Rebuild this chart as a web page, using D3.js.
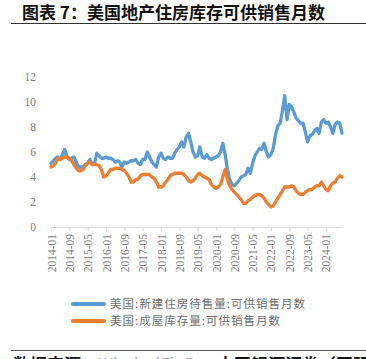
<!DOCTYPE html>
<html><head><meta charset="utf-8">
<script src="https://cdn.jsdelivr.net/npm/d3@7"></script>
<style>
html,body{margin:0;padding:0;background:#fff;}
svg{display:block;}
</style>
</head><body>
<div id="chart"></div>
<script>
const titleText = "图表 7：美国地产住房库存可供销售月数";
const seriesNames = ["美国:新建住房待售量:可供销售月数", "美国:成屋库存量:可供销售月数"];
const startMonth = "2014-01";
const tickLabels = ["2014-01","2014-09","2015-05","2016-01","2016-09","2017-05","2018-01","2018-09","2019-05","2020-01","2020-09","2021-05","2022-01","2022-09","2023-05","2024-01"];
const yTicks = [0,2,4,6,8,10,12];

// 新建住房可供销售月数 2014-01 ... 2024-08
const newHomes = [
  5.1,5.3,5.5,5.6,5.4,5.8,6.2,5.6,5.4,5.5,5.6,5.2,
  4.8,4.8,4.8,5.0,5.1,5.4,5.0,5.1,5.9,5.7,5.5,5.5,
  5.6,5.5,5.5,5.4,5.2,5.3,5.2,4.8,5.2,5.1,5.2,5.3,
  5.3,5.4,5.1,5.0,5.4,5.4,6.0,5.6,5.2,5.0,4.8,5.6,
  5.9,5.5,5.4,5.6,5.5,5.5,5.9,6.2,6.4,6.8,6.4,7.2,
  7.5,6.8,6.0,5.6,5.7,6.4,5.6,5.5,5.8,5.5,5.4,5.5,
  5.6,5.7,6.0,6.7,5.8,4.6,3.8,3.4,3.3,3.5,3.7,4.0,
  4.1,4.2,4.7,4.3,5.1,5.7,6.0,6.3,6.2,6.7,6.0,5.6,
  5.8,6.3,7.4,8.1,8.3,9.3,10.5,8.6,9.8,9.6,9.2,8.7,
  8.5,8.3,8.3,7.6,6.8,7.3,7.4,7.7,7.9,7.5,8.4,8.6,
  8.3,8.4,8.0,7.5,8.2,8.4,8.3,7.5
];
// 成屋可供销售月数 2014-01 ... 2024-08
const existingHomes = [
  4.8,4.9,5.1,5.5,5.4,5.5,5.6,5.6,5.5,5.3,5.0,4.7,
  4.5,4.5,4.6,4.9,5.1,5.2,5.0,5.0,5.0,4.9,4.6,4.0,
  4.1,4.3,4.6,4.6,4.7,4.7,4.7,4.6,4.5,4.3,4.0,3.6,
  3.6,3.8,3.8,4.1,4.2,4.2,4.2,4.2,4.0,3.9,3.6,3.2,
  3.2,3.3,3.6,3.8,4.1,4.2,4.3,4.3,4.3,4.3,4.2,4.0,
  3.7,3.6,3.7,3.9,4.2,4.3,4.1,4.0,3.9,3.8,3.4,3.2,
  3.1,3.2,3.4,4.0,4.6,3.8,3.3,3.0,2.8,2.6,2.4,2.2,
  1.9,1.9,2.1,2.2,2.4,2.5,2.6,2.6,2.5,2.3,2.0,1.8,
  1.6,1.7,2.0,2.3,2.6,2.9,3.2,3.2,3.2,3.3,3.2,2.9,
  2.7,2.6,2.6,2.8,2.9,3.0,3.0,3.2,3.3,3.3,3.6,3.3,
  3.0,2.9,3.3,3.5,3.6,3.9,4.1,4.0
];
const colors = ["#5b9bd5", "#ed7d31"];

const W = 366, H = 359;
const svg = d3.select("#chart").append("svg").attr("width", W).attr("height", H);

const fmt = d3.timeFormat("%Y-%m");
const parse = d3.timeParse("%Y-%m");
const months = d3.timeMonth.range(parse(startMonth), d3.timeMonth.offset(parse(startMonth), newHomes.length)).map(fmt);

// title
svg.append("text").attr("x", 22).attr("y", 19)
  .attr("font-family", "'Noto Sans CJK SC', sans-serif").attr("font-weight", "bold")
  .attr("font-size", 17).attr("fill", "#111").text(titleText);
svg.append("line").attr("x1", 11).attr("x2", 366).attr("y1", 23.5).attr("y2", 23.5)
  .attr("stroke", "#333").attr("stroke-width", 1);

const x = d3.scalePoint().domain(months).range([51, 342]);
const y = d3.scaleLinear().domain([0, 12]).range([227, 77]);

// y axis
const yAxis = svg.append("g").attr("transform", "translate(51,0)")
  .call(d3.axisLeft(y).tickValues(yTicks).tickSize(0).tickPadding(15));
yAxis.select(".domain").remove();
yAxis.selectAll("text").attr("font-family", "'Liberation Serif', serif").attr("font-size", 11.5).attr("fill", "#7f7f7f");

// x axis
const xAxis = svg.append("g").attr("transform", "translate(0,227)")
  .call(d3.axisBottom(x).tickValues(tickLabels).tickSizeInner(4).tickSizeOuter(0));
xAxis.select(".domain").attr("stroke", "#d9d9d9");
xAxis.selectAll(".tick line").attr("stroke", "#d9d9d9");
xAxis.selectAll("text")
  .attr("font-family", "'Liberation Serif', serif").attr("font-size", 11.5).attr("fill", "#7f7f7f")
  .attr("transform", "rotate(-90)").attr("text-anchor", "end")
  .attr("x", -7).attr("y", 0).attr("dy", "0.35em");

// lines
const line = d3.line().x((d, i) => x(months[i])).y(d => y(d));
[newHomes, existingHomes].forEach((s, k) => {
  svg.append("path").datum(s).attr("d", line).attr("fill", "none")
    .attr("stroke", colors[k]).attr("stroke-width", 3.3).attr("stroke-linejoin", "round").attr("stroke-linecap", "round");
});

// legend
const legY = [304, 321];
seriesNames.forEach((n, k) => {
  svg.append("line").attr("x1", 73).attr("x2", 104).attr("y1", legY[k]).attr("y2", legY[k])
    .attr("stroke", colors[k]).attr("stroke-width", 4).attr("stroke-linecap", "round");
  svg.append("text").attr("x", 110).attr("y", legY[k]).attr("dy", "0.36em")
    .attr("font-family", "'Noto Sans CJK SC', sans-serif").attr("font-size", 11.5)
    .attr("letter-spacing", 1)
    .attr("fill", "#6e6e6e").text(n);
});

// footer
svg.append("line").attr("x1", 11).attr("x2", 366).attr("y1", 350.5).attr("y2", 350.5)
  .attr("stroke", "#555").attr("stroke-width", 1);
const ft = svg.append("text").attr("x", 13).attr("y", 371)
  .attr("font-family", "'Noto Sans CJK SC', sans-serif").attr("font-weight", "bold").attr("font-size", 17).attr("fill", "#111");
ft.append("tspan").text("数据来源：");
ft.append("tspan").attr("fill", "#aaa").attr("font-weight", "normal").text("Wind，iFinD ");
ft.append("tspan").text("，中国银河证券（国际研究");
</script>
</body></html>
